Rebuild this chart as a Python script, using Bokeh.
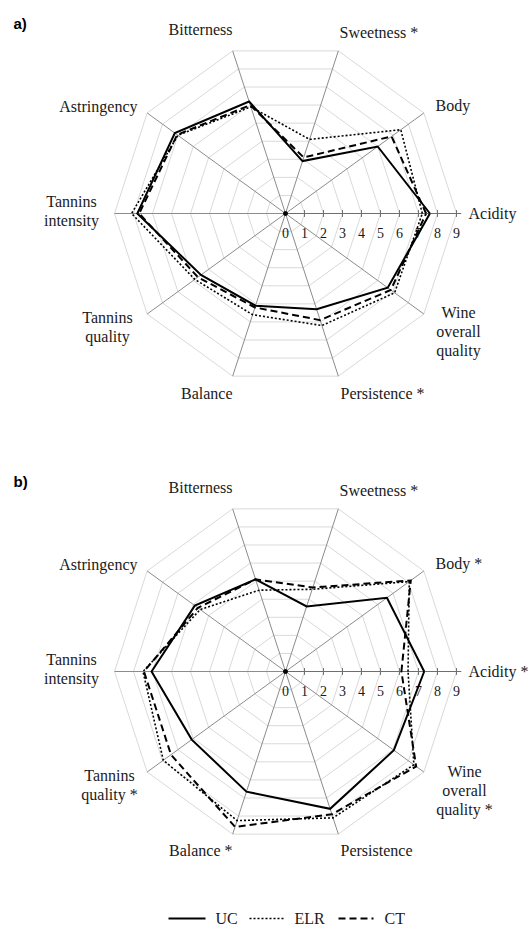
import numpy as np
from bokeh.plotting import figure
from bokeh.models import Range1d
from bokeh.embed import file_html
from bokeh.resources import INLINE
from bokeh.core.properties import value

# ---------------- data ----------------
attributes = ["Acidity", "Body", "Sweetness", "Bitterness", "Astringency",
              "Tannins intensity", "Tannins quality", "Balance", "Persistence",
              "Wine overall quality"]

# panel labels (asterisk = significant difference)
labels_a = [["Acidity"], ["Body"], ["Sweetness *"], ["Bitterness"], ["Astringency"],
            ["Tannins", "intensity"], ["Tannins", "quality"], ["Balance"],
            ["Persistence *"], ["Wine", "overall", "quality"]]
labels_b = [["Acidity *"], ["Body *"], ["Sweetness *"], ["Bitterness"], ["Astringency"],
            ["Tannins", "intensity"], ["Tannins", "quality *"], ["Balance *"],
            ["Persistence"], ["Wine", "overall", "quality *"]]

uc_a  = [7.6, 6.0, 2.9, 6.2, 7.2, 7.8, 5.5, 5.1, 5.3, 6.65]
elr_a = [7.2, 7.5, 4.1, 5.9, 7.0, 8.1, 5.9, 5.6, 6.2, 7.1]
ct_a  = [7.4, 6.9, 3.1, 6.0, 7.05, 7.7, 5.7, 5.2, 5.9, 6.85]

uc_b  = [7.3, 6.6, 3.6, 5.1, 5.9, 7.05, 6.1, 6.65, 7.6, 7.05]
elr_b = [6.45, 8.05, 4.55, 4.5, 5.55, 7.5, 7.95, 8.25, 8.1, 8.35]
ct_b  = [6.1, 8.15, 4.65, 5.1, 5.7, 7.45, 7.45, 8.6, 7.9, 8.5]

series_names = ["UC", "ELR", "CT"]
tick_values = list(range(0, 10))
scale_max = 9

# ---------------- layout ----------------
PX = 19.0              # pixels per scale unit
W, H = 531, 926
CX = 285               # canvas x of radar centres
CY_A, CY_B = 213, 671  # canvas y of radar centres


def X(cx):
    return (cx - CX) / PX


def Y(cy):
    return (CY_A - cy) / PX


serif = value("'Liberation Serif', 'Times New Roman', 'DejaVu Serif', serif")
text_color = "#1a1a1a"
grid_color = "#d9d9d9"
spoke_color = "#8c8c8c"

styles = {
    "UC": dict(line_dash="solid", line_width=2.0),
    "ELR": dict(line_dash="2 2", line_width=1.6),
    "CT": dict(line_dash="7 4", line_width=2.0),
}

# label offsets in px (dx, first line dy, align) for each axis
label_layout = {
    "a": [(183, 0, "left"), (150, -108, "left"), (54, -181, "left"), (-53, -184, "right"),
          (-148, -107, "right"), (-214, -12, "center"), (-178, 104, "center"),
          (-53, 180, "right"), (55, 180, "left"), (173, 99, "center")],
    "b": [(183, 0, "left"), (150, -108, "left"), (54, -181, "left"), (-53, -184, "right"),
          (-148, -107, "right"), (-214, -12, "center"), (-176, 104, "center"),
          (-53, 179, "right"), (55, 179, "left"), (179, 100, "center")],
}
line_gap = 18.8

p = figure(width=W, height=H, output_backend="svg", toolbar_location=None,
           x_range=Range1d(X(0), X(W)), y_range=Range1d(Y(H), Y(0)),
           min_border=0, x_axis_location=None, y_axis_location=None,
           outline_line_color=None, background_fill_color="white",
           border_fill_color="white")
p.xgrid.visible = False
p.ygrid.visible = False

n = len(attributes)
angles = np.deg2rad(np.arange(n) * 360.0 / n)


def draw_radar(cy, series, labels, key, tag):
    cx = 0.0
    closed = np.append(angles, angles[0])
    # grid rings
    xs = [list(cx + lvl * np.cos(closed)) for lvl in range(1, scale_max + 1)]
    ys = [list(cy + lvl * np.sin(closed)) for lvl in range(1, scale_max + 1)]
    p.multi_line(xs, ys, line_color=grid_color, line_width=1)
    # spokes
    sx = [[cx, cx + scale_max * np.cos(a)] for a in angles]
    sy = [[cy, cy + scale_max * np.sin(a)] for a in angles]
    p.multi_line(sx, sy, line_color=spoke_color, line_width=1)
    # value axis along Acidity
    p.line([cx, cx + scale_max + 0.25], [cy, cy], line_color="#6e6e6e", line_width=1)
    tx = [[cx + t, cx + t] for t in tick_values[1:]]
    ty = [[cy - 0.18, cy + 0.18] for t in tick_values[1:]]
    p.multi_line(tx, ty, line_color="#6e6e6e", line_width=1)
    p.text(x=[cx + t for t in tick_values], y=[cy - 19 / PX] * len(tick_values),
           text=[str(t) for t in tick_values], text_font=serif, text_font_size="14px",
           text_align="center", text_baseline="middle", text_color=text_color)
    # data
    for name, vals in zip(series_names, series):
        v = np.array(vals + [vals[0]])
        p.line(cx + v * np.cos(closed), cy + v * np.sin(closed), line_color="black",
               line_join="miter", **styles[name])
    p.scatter([cx], [cy], size=4, color="black")
    # axis labels
    for lines, (dx, dy, align) in zip(labels, label_layout[key]):
        for k, line in enumerate(lines):
            p.text(x=[cx + dx / PX], y=[cy - (dy + k * line_gap) / PX], text=[line],
                   text_font=serif, text_font_size="16px", text_align=align,
                   text_baseline="middle", text_color=text_color)
    # panel tag
    p.text(x=[X(13)], y=[cy + 190 / PX], text=[tag],
           text_font=value("'Liberation Sans', Arial, sans-serif"),
           text_font_style="bold", text_font_size="15px", text_align="left",
           text_baseline="middle", text_color="black")


draw_radar(0.0, [uc_a, elr_a, ct_a], labels_a, "a", "a)")
draw_radar(Y(CY_B), [uc_b, elr_b, ct_b], labels_b, "b", "b)")

# legend
leg_y = Y(918)
leg_items = [("UC", 168, 205, 215), ("ELR", 249, 283, 294), ("CT", 338, 373, 384)]
for (name, x0, x1, tx) in leg_items:
    p.line([X(x0), X(x1)], [leg_y, leg_y], line_color="black", **styles[name])
    p.text(x=[X(tx)], y=[leg_y], text=[name], text_font=serif, text_font_size="16px",
           text_align="left", text_baseline="middle", text_color=text_color)

open("out.html", "w").write(file_html(p, INLINE))
